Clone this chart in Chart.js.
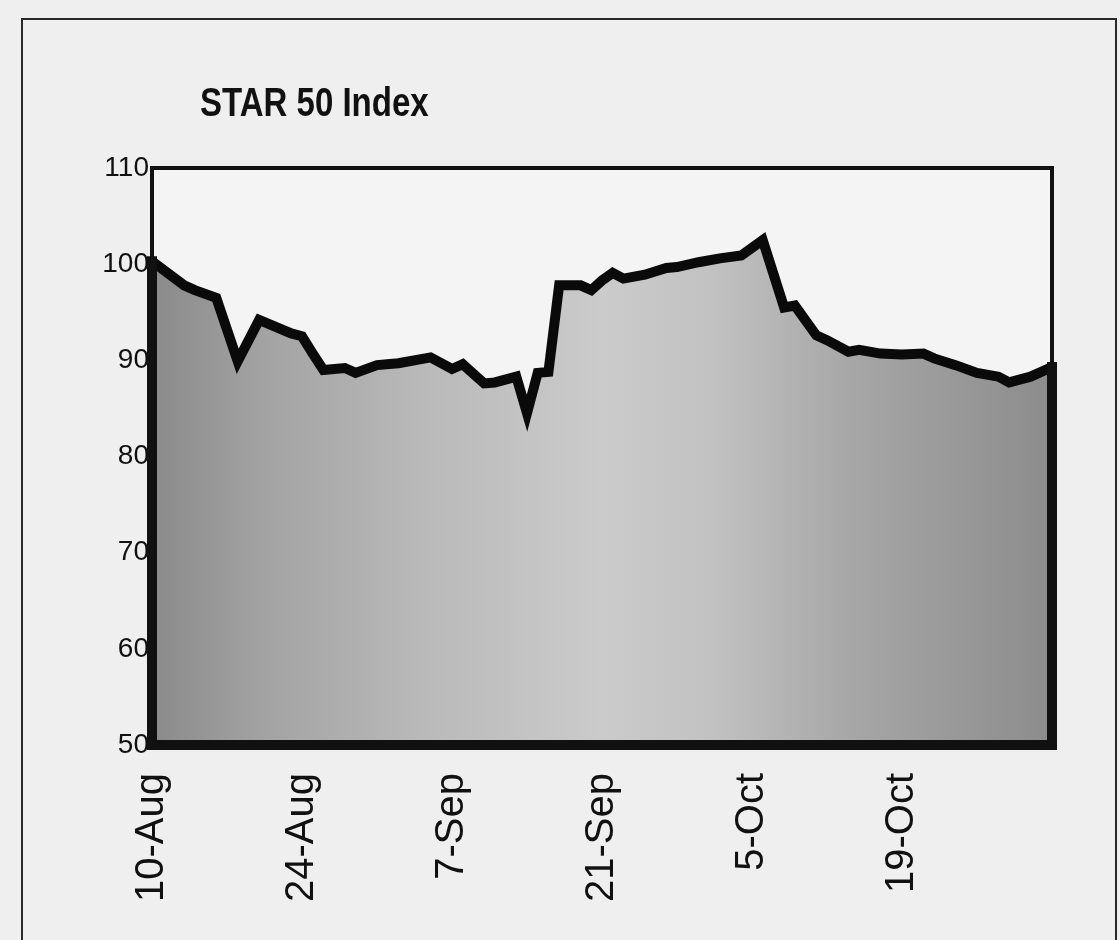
<!DOCTYPE html>
<html>
<head>
<meta charset="utf-8">
<title>STAR 50 Index</title>
<script src="https://cdn.jsdelivr.net/npm/chart.js@4.4.1/dist/chart.umd.min.js"></script>
<style>
  html, body { margin: 0; padding: 0; background: #efefef; }
  canvas { display: block; }
</style>
</head>
<body>
<canvas id="chart" width="1120" height="940"></canvas>
<script>
// STAR 50 index, rebased
const titleText = 'STAR 50 Index';

const dates = [
    '2020-08-10', '2020-08-13', '2020-08-14', '2020-08-16', '2020-08-18', '2020-08-20',
    '2020-08-23', '2020-08-24', '2020-08-25', '2020-08-26', '2020-08-28', '2020-08-29',
    '2020-08-31', '2020-09-02', '2020-09-05', '2020-09-07', '2020-09-08', '2020-09-10',
    '2020-09-11', '2020-09-13', '2020-09-14', '2020-09-15', '2020-09-16', '2020-09-17',
    '2020-09-19', '2020-09-20', '2020-09-21', '2020-09-22', '2020-09-23', '2020-09-25',
    '2020-09-27', '2020-09-28', '2020-09-30', '2020-10-02', '2020-10-04', '2020-10-06',
    '2020-10-08', '2020-10-09', '2020-10-11', '2020-10-12', '2020-10-14', '2020-10-15',
    '2020-10-17', '2020-10-19', '2020-10-21', '2020-10-22', '2020-10-24', '2020-10-26',
    '2020-10-28', '2020-10-29', '2020-10-31', '2020-11-02'
];

const values = [
    100.3, 97.8, 97.3, 96.5, 89.9, 94.2,
    92.8, 92.5, 90.7, 89.0, 89.2, 88.7,
    89.5, 89.7, 90.3, 89.1, 89.6, 87.6,
    87.7, 88.3, 84.5, 88.7, 88.8, 97.8,
    97.8, 97.3, 98.3, 99.1, 98.5, 98.9,
    99.6, 99.7, 100.2, 100.6, 100.9, 102.5,
    95.5, 95.7, 92.6, 92.1, 90.9, 91.1,
    90.7, 90.6, 90.7, 90.2, 89.5, 88.7,
    88.3, 87.7, 88.3, 89.3
];

const tickDates = ['2020-08-10', '2020-08-24', '2020-09-07', '2020-09-21', '2020-10-05', '2020-10-19'];
const tickLabels = ['10-Aug', '24-Aug', '7-Sep', '21-Sep', '5-Oct', '19-Oct'];

const yMin = 50;
const yMax = 110;
const yStep = 10;

// days since the first date
function dayOf(s) {
    return (Date.parse(s) - Date.parse(dates[0])) / 86400000;
}

const points = dates.map((d, i) => ({ x: dayOf(d), y: values[i] }));

const paperPlugin = {
    id: 'paper',
    beforeDraw(chart) {
        const ctx = chart.ctx;
        ctx.save();
        ctx.fillStyle = '#efefef';
        ctx.fillRect(0, 0, chart.width, chart.height);
        // outer frame of the figure
        ctx.strokeStyle = '#2a2a2a';
        ctx.lineWidth = 2;
        ctx.strokeRect(22, 19, 1094, 960);
        // plot background
        const a = chart.chartArea;
        ctx.fillStyle = '#f4f4f4';
        ctx.fillRect(a.left, a.top, a.right - a.left, a.bottom - a.top);
        // title (the scan is a bit stretched vertically)
        ctx.fillStyle = '#111';
        ctx.font = "bold 33px 'Liberation Sans', Arial, sans-serif";
        ctx.textBaseline = 'alphabetic';
        ctx.translate(200, 116);
        ctx.scale(1, 1.25);
        ctx.fillText(titleText, 0, 0);
        ctx.restore();
    }
};

const outlinePlugin = {
    id: 'outline',
    afterDatasetsDraw(chart) {
        const ctx = chart.ctx;
        const a = chart.chartArea;
        const pts = chart.getDatasetMeta(0).data;
        const bottom = chart.scales.y.getPixelForValue(yMin);
        ctx.save();
        // thin plot border
        ctx.strokeStyle = '#111';
        ctx.lineWidth = 4;
        ctx.strokeRect(a.left, a.top, a.right - a.left, a.bottom - a.top);
        // thick outline around the filled area
        const first = pts[0];
        const last = pts[pts.length - 1];
        ctx.lineWidth = 10;
        ctx.lineJoin = 'miter';
        ctx.lineCap = 'square';
        ctx.beginPath();
        ctx.moveTo(first.x, first.y);
        ctx.lineTo(first.x, bottom);
        ctx.lineTo(last.x, bottom);
        ctx.lineTo(last.x, last.y);
        ctx.stroke();
        ctx.restore();
    }
};

new Chart(document.getElementById('chart'), {
    type: 'line',
    data: {
        datasets: [{
            label: titleText,
            data: points,
            borderColor: '#0a0a0a',
            borderWidth: 10,
            borderJoinStyle: 'miter',
            pointRadius: 0,
            tension: 0,
            fill: 'start',
            backgroundColor: function(context) {
                const area = context.chart.chartArea;
                if (!area) return '#b0b0b0';
                const g = context.chart.ctx.createLinearGradient(area.left, 0, area.right, 0);
                g.addColorStop(0, '#8a8a8a');
                g.addColorStop(0.12, '#a2a2a2');
                g.addColorStop(0.3, '#b9b9b9');
                g.addColorStop(0.5, '#cbcbcb');
                g.addColorStop(0.62, '#c2c2c2');
                g.addColorStop(0.78, '#a6a6a6');
                g.addColorStop(1, '#8c8c8c');
                return g;
            }
        }]
    },
    options: {
        responsive: false,
        animation: false,
        layout: {
            padding: { left: 0, right: 68, top: 168, bottom: 0 }
        },
        plugins: {
            legend: { display: false },
            title: { display: false },
            tooltip: { enabled: false }
        },
        scales: {
            x: {
                type: 'linear',
                min: dayOf(dates[0]),
                max: dayOf(dates[dates.length - 1]),
                afterBuildTicks: function(scale) {
                    scale.ticks = tickDates.map(d => ({ value: dayOf(d) }));
                },
                afterFit: function(scale) {
                    scale.height = 940 - 745;
                },
                ticks: {
                    autoSkip: false,
                    minRotation: 90,
                    maxRotation: 90,
                    padding: 28,
                    color: '#111',
                    font: { family: "'Liberation Sans', Arial, sans-serif", size: 40 },
                    callback: function(value) {
                        const i = tickDates.findIndex(d => dayOf(d) === value);
                        return i >= 0 ? tickLabels[i] : '';
                    }
                },
                grid: { display: false, drawTicks: false },
                border: { display: false }
            },
            y: {
                min: yMin,
                max: yMax,
                afterFit: function(scale) {
                    scale.width = 152;
                },
                ticks: {
                    stepSize: yStep,
                    padding: 3,
                    color: '#111',
                    font: { family: "'Liberation Sans', Arial, sans-serif", size: 28 }
                },
                grid: { display: false, drawTicks: false },
                border: { display: false }
            }
        }
    },
    plugins: [paperPlugin, outlinePlugin]
});
</script>
</body>
</html>
